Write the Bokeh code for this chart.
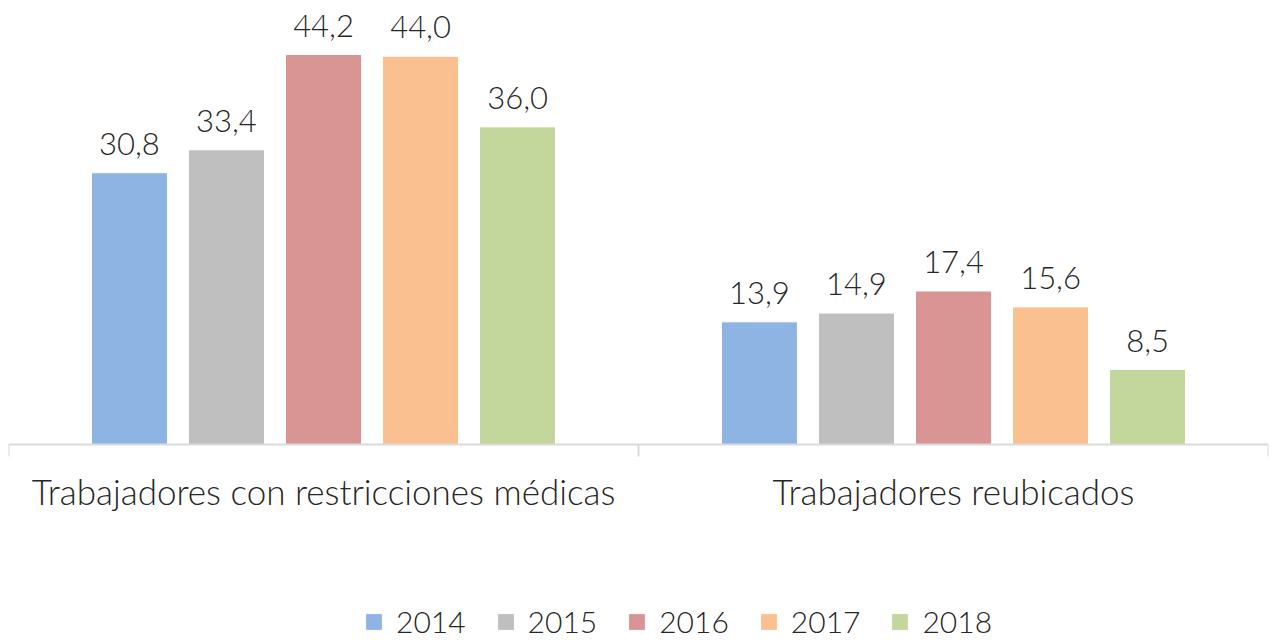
from bokeh.plotting import figure
from bokeh.models import ColumnDataSource, Range1d, FixedTicker, Legend, LegendItem, LinearAxis
from bokeh.embed import file_html
from bokeh.resources import INLINE
from bokeh.core.properties import value

categories = ["Trabajadores con restricciones médicas", "Trabajadores reubicados"]
years = ["2014", "2015", "2016", "2017", "2018"]
v2014 = [30.8, 13.9]
v2015 = [33.4, 14.9]
v2016 = [44.2, 17.4]
v2017 = [44.0, 15.6]
v2018 = [36.0, 8.5]
series = [v2014, v2015, v2016, v2017, v2018]
colors = ["#8EB4E3", "#BFBFBF", "#D99594", "#FAC090", "#C3D69B"]

FONT = "Lato Light"
TXT = "#262626"

p = figure(width=1278, height=642, x_range=Range1d(0, 2), y_range=Range1d(-22.44, 50.32),
           x_axis_location=None, y_axis_location=None, toolbar_location=None,
           output_backend="svg",
           min_border_left=8, min_border_right=10, min_border_top=0, min_border_bottom=0)
p.outline_line_color = None
p.xgrid.visible = False
p.ygrid.visible = False

step = 0.154
bw = 0.1206
items = []
for i, (yr, vals, col) in enumerate(zip(years, series, colors)):
    xs = [k + 0.5 + (i - 2) * step for k in range(len(categories))]
    src = ColumnDataSource(dict(x=xs, top=vals,
                                lab=[f"{v:.1f}".replace(".", ",") for v in vals]))
    r = p.vbar(x="x", top="top", width=bw, bottom=0, source=src, fill_color=col,
               line_color="white", line_width=1)
    p.text(x="x", y="top", text="lab", source=src, text_align="center",
           text_baseline="alphabetic", y_offset=-29, text_font=value(FONT),
           text_font_size="31px", text_color=TXT)
    items.append(LegendItem(label=yr, renderers=[r]))

ax = LinearAxis(fixed_location=0)
ax.ticker = FixedTicker(ticks=[0.5, 1.5], minor_ticks=[0, 1, 2])
ax.major_label_overrides = {0.5: categories[0], 1.5: categories[1]}
ax.major_tick_line_color = None
ax.minor_tick_line_color = "#D9D9D9"
ax.minor_tick_line_width = 2
ax.minor_tick_in = 0
ax.minor_tick_out = 12
ax.axis_line_color = "#D9D9D9"
ax.axis_line_width = 2
ax.major_label_text_font = FONT
ax.major_label_text_font_size = "35px"
ax.major_label_text_color = TXT
ax.major_label_standoff = 13
p.add_layout(ax, "below")

legend = Legend(items=items, orientation="horizontal", location=(355, 3),
                border_line_color=None, background_fill_alpha=0,
                label_text_font=FONT, label_text_font_size="30px", label_text_color=TXT,
                glyph_width=21, glyph_height=21, label_standoff=12, spacing=29,
                padding=0, margin=0)
p.add_layout(legend, "center")

open("out.html", "w").write(file_html(p, INLINE))
